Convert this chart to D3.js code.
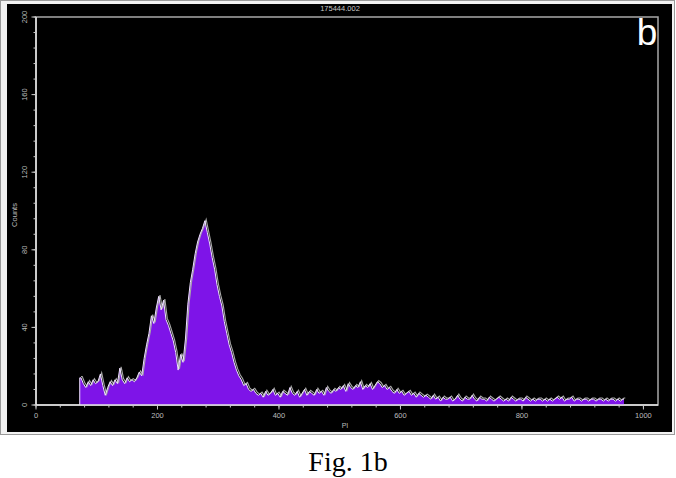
<!DOCTYPE html>
<html>
<head>
<meta charset="utf-8">
<script src="https://cdn.jsdelivr.net/npm/d3@7"></script>
<style>
  html, body { margin: 0; padding: 0; background: #fff; }
  svg { display: block; }
</style>
</head>
<body>
<svg id="chart" width="676" height="478"></svg>
<script>
// ---- data ----
const binStart = 72;       // first channel with counts
const binWidth = 4;        // channels per bin
const counts = [
  // 72-132
  14,11,9,12,10,13,11,12,16,10,5,9,12,10,13,11,
  // 136-172
  19,13,11,14,12,13,12,14,17,15,
  // 176-228 (first peak)
  24,31,37,46,42,50,56,49,54,44,41,37,33,27,
  // 232-244 (valley)
  18,26,22,34,
  // 248-364 (main peak)
  52,63,70,78,84,88,91,95,89,83,76,70,62,56,51,43,37,31,27,22,18,15,13,10,11,8,7,8,6,5,
  // 368-496
  6,4,7,5,6,8,5,6,4,7,6,5,9,6,5,7,4,6,8,5,7,6,5,8,6,7,5,9,7,6,8,7,9,
  // 500-572
  8,10,7,11,9,8,10,9,12,8,10,9,11,8,10,12,11,9,10,
  // 576-640
  8,9,7,6,8,6,7,5,6,7,5,6,4,6,5,4,5,
  // 644-964
  4,3,5,3,4,2,4,3,3,4,2,3,5,3,2,4,3,3,5,3,2,4,3,3,2,4,3,2,3,4,
  3,2,3,2,4,3,2,3,3,2,4,3,2,3,2,3,3,2,3,2,3,2,3,4,3,4,2,3,3,4,
  2,3,3,2,3,3,2,3,3,2,3,3,2,3,2,3,3,2,3,2,3
];
const xTicks = [0, 200, 400, 600, 800, 1000];
const yTicks = [0, 40, 80, 120, 160, 200];
const title = "175444.002";
const xLabel = "PI";
const yLabel = "Counts";
const panelLetter = "b";
const caption = "Fig. 1b";

// ---- drawing ----
const svg = d3.select("#chart");

// outer panel
svg.append("rect").attr("x", 0.5).attr("y", 0.5).attr("width", 674).attr("height", 434)
  .attr("fill", "#f2f2f2").attr("stroke", "#9a9a9a");
svg.append("rect").attr("x", 7).attr("y", 4).attr("width", 665).attr("height", 428)
  .attr("fill", "#000");

const x = d3.scaleLinear().domain([0, 1024]).range([36, 658]);
const y = d3.scaleLinear().domain([0, 200]).range([405, 17]);

// plot frame
svg.append("rect").attr("x", x(0)).attr("y", y(200)).attr("width", x(1024) - x(0)).attr("height", y(0) - y(200))
  .attr("fill", "none").attr("stroke", "#a8a8a8").attr("stroke-width", 1.5);

// histogram (points at bin centres, vertical rise at first channel)
const pts = [[binStart, counts[0]]]
  .concat(counts.map((c, i) => [binStart + i * binWidth + binWidth / 2, c]))
  .concat([[binStart + counts.length * binWidth, counts[counts.length - 1]]]);

const area = d3.area().x(d => x(d[0])).y0(y(0)).y1(d => y(d[1]));
const line = d3.line().x(d => x(d[0])).y(d => y(d[1]));

svg.append("path").datum(pts).attr("d", area).attr("fill", "#7e14e8");
svg.append("path").datum(pts).attr("d", line).attr("fill", "none")
  .attr("stroke", "#a8a8a8").attr("stroke-width", 1.1).attr("transform", "translate(1.3,-1.2)");
svg.append("path").datum(pts).attr("d", line).attr("fill", "none")
  .attr("stroke", "#f0e4ff").attr("stroke-width", 1);
svg.append("line").attr("x1", x(binStart)).attr("x2", x(binStart))
  .attr("y1", y(0)).attr("y2", y(counts[0])).attr("stroke", "#f0e4ff").attr("stroke-width", 1);

// axes
const tickCol = "#c8c8c8";
const xMinor = d3.range(0, 1025, 40);
const yMinor = d3.range(0, 201, 8);

const gx = svg.append("g").attr("transform", `translate(0,${y(0)})`);
gx.append("line").attr("x1", x(0)).attr("x2", x(1024)).attr("stroke", "#e6e6e6").attr("stroke-width", 1.5);
gx.selectAll(".mn").data(xMinor).join("line")
  .attr("x1", d => x(d)).attr("x2", d => x(d)).attr("y1", 0).attr("y2", 2.5).attr("stroke", tickCol);
gx.selectAll(".mj").data(xTicks).join("line")
  .attr("x1", d => x(d)).attr("x2", d => x(d)).attr("y1", 0).attr("y2", 4.5).attr("stroke", tickCol);
gx.selectAll("text").data(xTicks).join("text")
  .attr("x", d => x(d)).attr("y", 13).attr("text-anchor", "middle")
  .attr("font-family", "Liberation Sans, Arial, sans-serif").attr("font-size", 7.5)
  .attr("fill", "#bdbdbd").text(d => d);

const gy = svg.append("g").attr("transform", `translate(${x(0)},0)`);
gy.append("line").attr("y1", y(0)).attr("y2", y(200)).attr("stroke", "#e6e6e6").attr("stroke-width", 1.5);
gy.selectAll(".mn").data(yMinor).join("line")
  .attr("y1", d => y(d)).attr("y2", d => y(d)).attr("x1", 0).attr("x2", -2.5).attr("stroke", tickCol);
gy.selectAll(".mj").data(yTicks).join("line")
  .attr("y1", d => y(d)).attr("y2", d => y(d)).attr("x1", 0).attr("x2", -4.5).attr("stroke", tickCol);
gy.selectAll("text").data(yTicks).join("text")
  .attr("transform", d => `translate(-9,${y(d)}) rotate(-90)`)
  .attr("text-anchor", "middle")
  .attr("font-family", "Liberation Sans, Arial, sans-serif").attr("font-size", 7.5)
  .attr("fill", "#bdbdbd").text(d => d);

// labels
svg.append("text").attr("x", 340).attr("y", 11).attr("text-anchor", "middle")
  .attr("font-family", "Liberation Sans, Arial, sans-serif").attr("font-size", 7.5)
  .attr("fill", "#c8c8c8").text(title);
svg.append("text").attr("transform", "translate(17,215) rotate(-90)").attr("text-anchor", "middle")
  .attr("font-family", "Liberation Sans, Arial, sans-serif").attr("font-size", 7.5)
  .attr("fill", "#bdbdbd").text(yLabel);
svg.append("text").attr("x", 345).attr("y", 428).attr("text-anchor", "middle")
  .attr("font-family", "Liberation Sans, Arial, sans-serif").attr("font-size", 7)
  .attr("fill", "#bdbdbd").text(xLabel);
svg.append("text").attr("x", 647).attr("y", 45).attr("text-anchor", "middle")
  .attr("font-family", "Liberation Sans, Arial, sans-serif").attr("font-size", 37)
  .attr("fill", "#ffffff").text(panelLetter);

// caption
svg.append("text").attr("x", 348).attr("y", 471).attr("text-anchor", "middle")
  .attr("font-family", "Liberation Serif, Times New Roman, serif").attr("font-size", 28)
  .attr("fill", "#000").text(caption);
</script>
</body>
</html>
